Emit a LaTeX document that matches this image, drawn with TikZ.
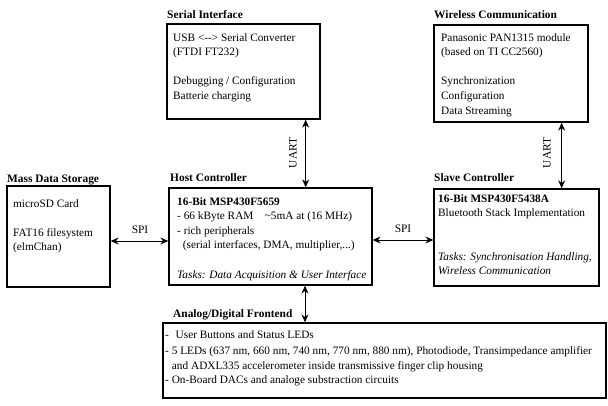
\documentclass[tikz,border=0pt]{standalone}
\usepackage{fontspec}
\setmainfont{Liberation Serif}
\usetikzlibrary{arrows.meta}
\begin{document}
\begin{tikzpicture}[x=1pt,y=-1pt,
  box/.style={draw, line width=1.3pt, inner sep=0pt},
  txt/.style={anchor=north west, inner sep=0pt, align=left, font=\fontsize{11.3}{14.6}\selectfont},
  ttl/.style={anchor=west, inner sep=0pt, font=\bfseries\fontsize{11.4}{13}\selectfont},
  lbl/.style={inner sep=0pt, font=\fontsize{11.4}{13}\selectfont},
  link/.style={line width=0.9pt, {Stealth[length=8pt,width=7pt]}-{Stealth[length=8pt,width=7pt]}}]
\useasboundingbox (0,0) rectangle (608,405);

% boxes
\node[box, minimum width=153pt, minimum height=95pt] (ser) at (243.5,71.5) {};
\node[box, minimum width=154pt, minimum height=97pt] (wir) at (511,73.5) {};
\node[box, minimum width=103pt, minimum height=101pt] (mass) at (58.5,236.5) {};
\node[box, minimum width=203pt, minimum height=97pt] (host) at (270.5,236.5) {};
\node[box, minimum width=165pt, minimum height=97pt] (slave) at (516.5,237.5) {};
\node[box, minimum width=443pt, minimum height=75pt] (afe) at (384.5,360.5) {};

% titles
\node[ttl] (tser) at (167,15) {Serial Interface};
\node[ttl] (twir) at (434,15) {Wireless Communication};
\node[ttl] (tmass) at (7,180) {Mass Data Storage};
\node[ttl] (thost) at (170,178) {Host Controller};
\node[ttl] (tslave) at (434,178) {Slave Controller};
\node[ttl] (tafe) at (173,315) {Analog/Digital Frontend};

% contents
\node[txt] (cser) at (173,33) {USB <-{}-> Serial Converter\\(FTDI FT232)\\[14.6pt]Debugging / Configuration\\Batterie charging};
\node[txt] (cwir) at (441,33) {Panasonic PAN1315 module\\(based on TI CC2560)\\[14.6pt]Synchronization\\Configuration\\Data Streaming};
\node[txt] (cmass) at (13,199) {microSD Card\\[14.6pt]FAT16 filesystem\\(elmChan)};
\node[txt] (chost) at (177,197) {\textbf{16-Bit MSP430F5659}\\- 66 kByte RAM\hspace{1em}\textasciitilde5mA at (16 MHz)\\- rich peripherals\\\hspace{0.5em}(serial interfaces, DMA, multiplier,...)\\[14.6pt]\textit{Tasks: Data Acquisition \& User Interface}};
\node[txt] (cslave) at (438,194) {\textbf{16-Bit MSP430F5438A}\\Bluetooth Stack Implementation\\[29pt]\textit{Tasks: Synchronisation Handling,}\\\textit{Wireless Communication}};
\node[txt] (cafe) at (165,330) {-\hspace{0.6em}User Buttons and Status LEDs\\[2pt]- 5 LEDs (637 nm, 660 nm, 740 nm, 770 nm, 880 nm), Photodiode, Transimpedance amplifier\\\hspace{0.6em}and ADXL335 accelerometer inside transmissive finger clip housing\\- On-Board DACs and analoge substraction circuits};

% connectors
\draw[link] ([xshift=-15pt]ser.south east) -- ([xshift=-15pt]ser.south east |- host.north);
\draw[link] ([xshift=-27pt]wir.south east) -- ([xshift=-27pt]wir.south east |- slave.north);
\draw[link] ([yshift=-4.5pt]host.west) -- ([yshift=-4.5pt]host.west -| mass.east);
\draw[link] ([yshift=-3.5pt]host.east) -- ([yshift=-3.5pt]host.east -| slave.west);
\draw[link] ([xshift=34.5pt]host.south) -- ([xshift=34.5pt]host.south |- afe.north);

% labels
\node[lbl, rotate=90] (u1) at (293,153) {UART};
\node[lbl, rotate=90] (u2) at (547,153) {UART};
\node[lbl] (s1) at (140,230) {SPI};
\node[lbl] (s2) at (403,229) {SPI};
\end{tikzpicture}
\end{document}
